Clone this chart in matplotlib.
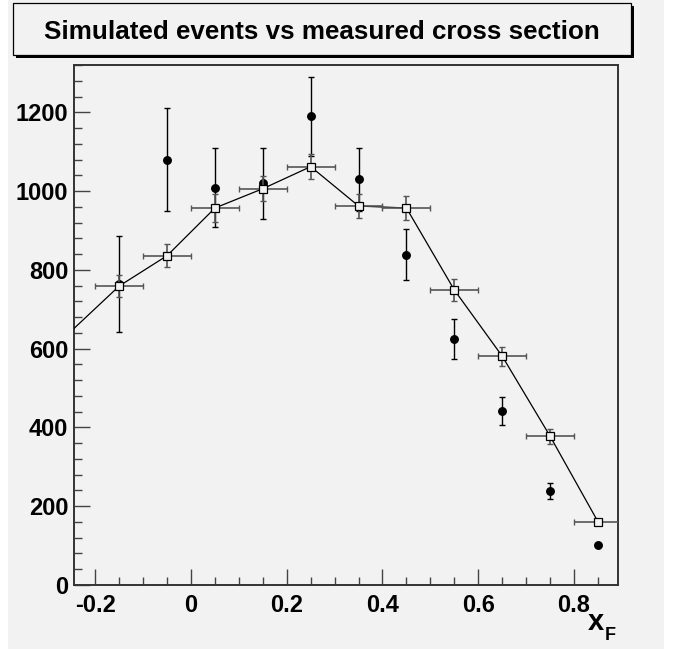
import matplotlib
matplotlib.use("Agg")
import matplotlib.pyplot as plt
from matplotlib.patches import Rectangle
from matplotlib.ticker import MultipleLocator

plt.rcParams['font.family'] = ['Liberation Sans', 'DejaVu Sans']

# bin centres in x_F
xf = [-0.15, -0.05, 0.05, 0.15, 0.25, 0.35, 0.45, 0.55, 0.65, 0.75, 0.85]
xf_err = [0.05] * 11

# measured cross section (filled circles)
meas = [764, 1080, 1009, 1020, 1190, 1030, 838, 624, 442, 239, 102]
meas_err = [123, 130, 100, 90, 100, 80, 65, 50, 35, 21, 0]

# simulated events (open squares)
sim = [759, 836, 957, 1006, 1062, 962, 957, 749, 581, 378, 161]
sim_err = [28, 29, 35, 32, 31, 31, 30, 27, 24, 19, 0]

# line through the simulated points, first point sits just outside the frame
line_x = [-0.25] + xf
line_y = [645] + sim

W, H = 675, 649
bg = '#f2f2f2'

fig = plt.figure(figsize=(W / 100, H / 100), dpi=100, facecolor='white')

# grey canvas
fig.patches.append(Rectangle((8 / W, 0), (664 - 8) / W, 1, transform=fig.transFigure,
                             facecolor=bg, edgecolor='none', zorder=-10))

ax = fig.add_axes([74 / W, (H - 585) / H, (618 - 74) / W, (585 - 65) / H])
ax.set_facecolor(bg)

ax.errorbar(xf, meas, yerr=meas_err, fmt='o', color='black', ms=5.4,
            elinewidth=1.0, capsize=2, capthick=1.0, zorder=3)
ax.plot(line_x, line_y, color='black', lw=0.9, zorder=4)
ax.errorbar(xf, sim, xerr=xf_err, yerr=sim_err, fmt='none', ecolor='#555555',
            elinewidth=1.2, capsize=2.2, capthick=1.0, zorder=4)
ax.plot(xf, sim, ls='none', marker='s', ms=6, mfc=bg, mec='black', mew=0.9, zorder=5)

ax.set_xlim(-0.2445, 0.892)
ax.set_ylim(0, 1320)

ax.xaxis.set_minor_locator(MultipleLocator(0.05))
ax.yaxis.set_minor_locator(MultipleLocator(40))
ax.set_xticks([-0.2, 0, 0.2, 0.4, 0.6, 0.8])
ax.set_xticklabels(['-0.2', '0', '0.2', '0.4', '0.6', '0.8'])
ax.set_yticks([0, 200, 400, 600, 800, 1000, 1200])
ax.set_yticklabels(['0', '200', '400', '600', '800', '1000', '1200'])

ax.tick_params(which='both', direction='in', color='#444444', width=1.0,
               top=False, right=False)
ax.tick_params(which='major', length=11.5)
ax.tick_params(which='minor', length=5.8)
ax.tick_params(axis='y', labelsize=17, pad=4.0)
ax.tick_params(axis='x', labelsize=17, pad=6.5)
for lab in ax.get_xticklabels() + ax.get_yticklabels():
    lab.set_fontweight('bold')

for s in ax.spines.values():
    s.set_color('#333333')
    s.set_linewidth(1.4)

# axis title x_F at lower right
fig.text(588 / W, 1 - 630 / H, 'x', fontsize=21, fontweight='bold', va='baseline', ha='left')
fig.text(605 / W, 1 - 640 / H, 'F', fontsize=13, fontweight='bold', va='baseline', ha='left')

# title box with shadow
fig.patches.append(Rectangle((15.5 / W, 1 - 58 / H), (631 - 12.5) / W, (55 - 3) / H,
                             transform=fig.transFigure, facecolor='black',
                             edgecolor='none', zorder=5))
fig.patches.append(Rectangle((12.5 / W, 1 - 55 / H), (631 - 12.5) / W, (55 - 3) / H,
                             transform=fig.transFigure, facecolor=bg,
                             edgecolor='black', lw=0.9, zorder=6))
fig.text(321.5 / W, 1 - 39 / H, 'Simulated events vs measured cross section',
         fontsize=18.7, fontweight='bold', ha='center', va='baseline', zorder=7)

fig.savefig('out.png', dpi=100, facecolor='white')
